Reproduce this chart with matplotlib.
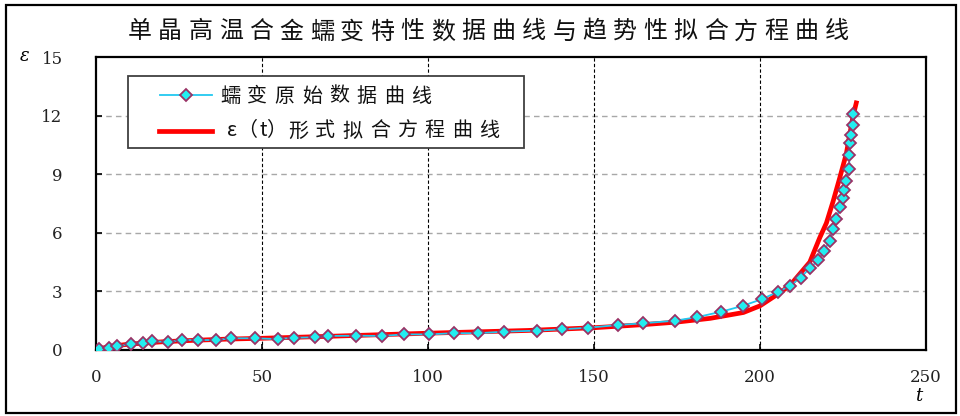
import matplotlib
matplotlib.use('Agg')
import matplotlib.pyplot as plt
from matplotlib.patches import Rectangle
from matplotlib.lines import Line2D

plt.rcParams['font.family'] = ['Noto Sans CJK SC', 'DejaVu Sans']

# ---- chart text ----
title = '单晶高温合金蠕变特性数据曲线与趋势性拟合方程曲线'
label_raw = '蠕变原始数据曲线'
label_fit = 'ε（t）形式拟合方程曲线'
x_label = 't'
y_label = 'ε'

# ---- measured creep data (time t, strain ε) ----
t_raw = [0.8, 4.0, 6.2, 10.6, 14.2, 16.9, 21.7, 25.9, 30.7, 36.2, 40.8, 47.8,
         54.7, 59.7, 66.1, 69.8, 78.3, 86.2, 92.8, 100.3,
         107.7, 115.2, 123.0, 132.8, 140.3, 148.3,
         157.2, 164.9, 174.4, 181.0, 188.3, 194.8, 200.5, 205.3, 209.0,
         212.2, 215.0, 217.6, 219.3, 221.0, 222.0, 223.0, 224.1, 225.0,
         225.4, 225.8, 226.9, 226.9, 227.0, 227.3, 227.9, 227.9]
eps_raw = [0.03, 0.09, 0.18, 0.31, 0.37, 0.45, 0.41, 0.51, 0.51, 0.51, 0.60, 0.60,
           0.56, 0.63, 0.65, 0.72, 0.73, 0.72, 0.80, 0.80,
           0.86, 0.86, 0.94, 0.99, 1.06, 1.14,
           1.28, 1.37, 1.50, 1.68, 1.96, 2.26, 2.60, 2.97, 3.28,
           3.70, 4.19, 4.60, 5.08, 5.60, 6.20, 6.72, 7.33, 7.76,
           8.18, 8.65, 9.28, 9.96, 10.60, 11.03, 11.50, 12.08]

# ---- fitted ε(t) curve ----
t_fit = [0, 2, 5, 10, 20, 30, 40, 50, 70, 100, 130, 150, 165, 175, 185, 195,
         200, 205, 209, 212, 215, 218, 220, 222, 224, 226, 228, 229]
eps_fit = [0.0, 0.10, 0.20, 0.30, 0.42, 0.50, 0.56, 0.60, 0.70, 0.86, 1.00, 1.14,
           1.30, 1.43, 1.62, 1.92, 2.26, 2.82, 3.30, 3.90, 4.50, 5.75, 6.50,
           7.60, 8.80, 10.05, 11.95, 12.65]

x_ticks = [0, 50, 100, 150, 200, 250]
y_ticks = [0, 3, 6, 9, 12, 15]

W, H = 960, 416
fig = plt.figure(figsize=(W / 100, H / 100), dpi=100)

TEXT_KW = dict(color='#111111', fontweight='light', zorder=10)


def fx(x):
    return x / W


def fy(y):
    return 1 - y / H


def spaced_text(s, x_first, y, size_px, advance):
    """Draw a string one glyph at a time with a fixed advance (pixels)."""
    for i, ch in enumerate(s):
        fig.text(fx(x_first + i * advance), fy(y), ch, fontsize=size_px * 0.72,
                 ha='center', va='center', **TEXT_KW)


# outer chart frame
fig.patches.append(Rectangle((fx(6), fy(413)), fx(956) - fx(6), fy(5) - fy(413),
                             transform=fig.transFigure, fill=False,
                             edgecolor='black', linewidth=1.6, zorder=0))

ax = fig.add_axes([fx(96), fy(350), (926 - 96) / W, (350 - 57) / H])
ax.set_xlim(0, 250)
ax.set_ylim(0, 15)
ax.set_xticks(x_ticks)
ax.set_yticks(y_ticks)
ax.set_xticklabels([str(v) for v in x_ticks], family='DejaVu Serif', fontsize=12, color='#222222')
ax.set_yticklabels([str(v) for v in y_ticks], family='DejaVu Serif', fontsize=12, color='#222222')
ax.tick_params(axis='both', direction='in', length=4, width=1.2, color='black')
ax.tick_params(axis='x', pad=14)
ax.tick_params(axis='y', pad=24)
for sp in ax.spines.values():
    sp.set_linewidth(1.6)
    sp.set_color('black')

# grid: gray dashed horizontals, black dashed verticals
for v in y_ticks[1:-1]:
    ax.axhline(v, color='#a8a8a8', linestyle=(0, (4, 3)), linewidth=1.0, zorder=1)
for v in x_ticks[1:-1]:
    ax.axvline(v, color='black', linestyle=(0, (3, 2)), linewidth=0.8, zorder=1)

ax.plot(t_fit, eps_fit, color='#ff0000', linewidth=3.4, solid_joinstyle='round', zorder=3)
ax.plot(t_raw, eps_raw, color='#22c8f0', linewidth=1.3, marker='D', markersize=6,
        markerfacecolor='#22eef0', markeredgecolor='#993366', markeredgewidth=1.3, zorder=4)

# axis name labels
fig.text(fx(25), fy(56), y_label, family='DejaVu Serif', style='italic', fontsize=13,
         ha='center', va='center')
fig.text(fx(919), fy(396), x_label, family='DejaVu Serif', style='italic', fontsize=13,
         ha='center', va='center')

# title
spaced_text(title, 140, 32, 24, 30.3)

# legend box
fig.patches.append(Rectangle((fx(128), fy(148)), fx(524) - fx(128), fy(76) - fy(148),
                             transform=fig.transFigure, facecolor='white',
                             edgecolor='#404040', linewidth=1.3, zorder=5))
fig.lines.append(Line2D([fx(160), fx(212)], [fy(95), fy(95)], transform=fig.transFigure,
                        color='#22c8f0', linewidth=1.3, zorder=6))
fig.lines.append(Line2D([fx(186)], [fy(95)], transform=fig.transFigure, marker='D',
                        markersize=6, markerfacecolor='#22eef0', markeredgecolor='#993366',
                        markeredgewidth=1.3, zorder=7))
fig.lines.append(Line2D([fx(159), fx(212)], [fy(131), fy(131)], transform=fig.transFigure,
                        color='#ff0000', linewidth=3.4, zorder=6))

spaced_text(label_raw, 230, 96, 20, 27.3)
# "ε（t）" prefix, then the Chinese part of the fit label
fs = 20 * 0.72
fig.text(fx(232), fy(131), label_fit[0], fontsize=fs, ha='center', va='center', **TEXT_KW)
fig.text(fx(237), fy(131), label_fit[1], fontsize=fs, ha='left', va='center', **TEXT_KW)
fig.text(fx(263.5), fy(131), label_fit[2], fontsize=fs, ha='center', va='center', **TEXT_KW)
fig.text(fx(266), fy(131), label_fit[3], fontsize=fs, ha='left', va='center', **TEXT_KW)
spaced_text(label_fit[4:], 298, 131, 20, 27.3)

fig.savefig('out.png', dpi=100)
